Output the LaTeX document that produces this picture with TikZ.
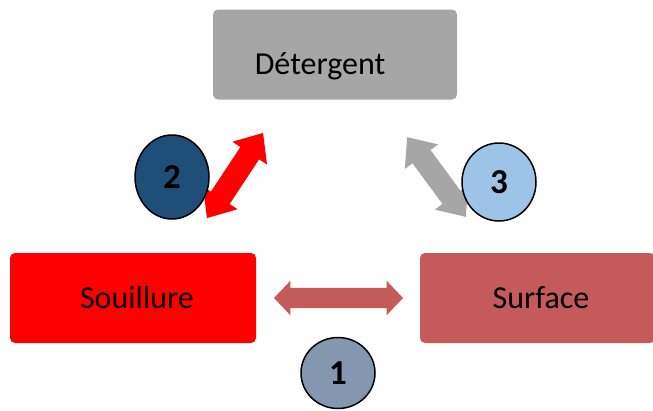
\documentclass[tikz,border=0pt]{standalone}
\usepackage{fontspec}
\setmainfont{Carlito}
\usetikzlibrary{shapes.arrows,shapes.geometric}

\definecolor{detgrey}{HTML}{A6A6A6}
\definecolor{soilred}{HTML}{FF0000}
\definecolor{surfred}{HTML}{C55A5A}
\definecolor{darkblue}{HTML}{1F4E79}
\definecolor{lightblue}{HTML}{9DC3E6}
\definecolor{slateblue}{HTML}{8497B0}

\tikzset{
    box/.style={rounded corners=5pt, inner sep=0pt, minimum height=90pt},
    label/.style={inner sep=0pt, font=\fontsize{32}{38}\selectfont},
    blockarrow/.style={double arrow, inner sep=0pt, inner ysep=11pt,
        minimum width=1pt, double arrow head extend=9.5pt, double arrow tip angle=81},
    num/.style={ellipse, draw=black, line width=1.5pt, inner sep=0pt,
        minimum width=74pt, font=\bfseries\fontsize{35}{40}\selectfont}
}

\begin{document}
\begin{tikzpicture}[x=1pt, y=-1pt]
    \useasboundingbox (0,0) rectangle (653,410);

    % the three boxes
    \node[box, fill=detgrey, minimum width=244pt] (det) at (335,54.5) {};
    \node[label] (dettext) at (320,66) {Détergent};
    \node[box, fill=soilred, minimum width=246pt] (soil) at (133,298) {};
    \node[label] (soiltext) at (137,298) {Souillure};
    \node[box, fill=surfred, minimum width=235pt] (surf) at (537.5,298) {};
    \node[label] (surftext) at (541,298) {Surface};

    % block arrows
    \node[blockarrow, fill=surfred, inner ysep=10pt, double arrow head extend=7pt,
        double arrow tip angle=93, minimum height=129pt] (arr1) at (338.5,298) {};
    \node[blockarrow, fill=soilred, rotate=56.6, minimum height=102pt] (arr2) at (235,175.5) {};
    \node[blockarrow, fill=detgrey, rotate=-53.6, minimum height=99pt] (arr3) at (436.5,177) {};

    % numbered circles
    \node[num, fill=slateblue, minimum height=71pt] (one) at (338,373) {1};
    \node[num, fill=darkblue, minimum height=84pt] (two) at (172,177) {2};
    \node[num, fill=lightblue, minimum height=78pt] (three) at (499,182) {3};
\end{tikzpicture}
\end{document}
